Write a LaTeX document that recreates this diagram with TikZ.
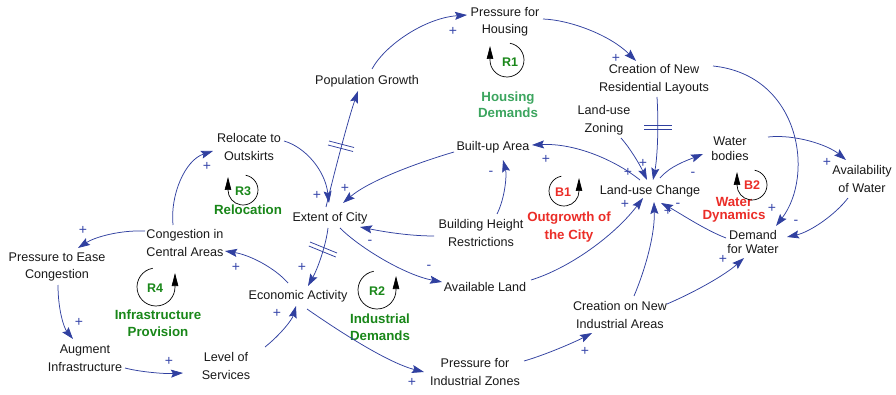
\documentclass[tikz,border=0pt]{standalone}
\usepackage{fontspec}
\setmainfont{Liberation Sans}
\usetikzlibrary{arrows.meta,calc}
\definecolor{arrblue}{RGB}{48,64,160}
\definecolor{sgnblue}{RGB}{55,70,170}
\definecolor{dgreen}{RGB}{25,135,25}
\definecolor{lgreen}{RGB}{60,165,95}
\definecolor{lred}{RGB}{235,45,40}
\definecolor{txt}{RGB}{25,25,25}
\begin{document}
\begin{tikzpicture}[x=1pt,y=-1pt,
  vnode/.style={align=center, inner sep=0pt, text=txt, font=\fontsize{12.6}{17.5}\selectfont},
  vnodemid/.style={vnode, font=\fontsize{12.6}{15}\selectfont},
  vnodesm/.style={vnode, font=\fontsize{12.6}{13.5}\selectfont},
  arr/.style={draw=arrblue, line width=0.75pt, -{Stealth[length=12pt,width=8pt,inset=2pt]}},
  sgn/.style={text=sgnblue, inner sep=0pt, font=\fontsize{14}{14}\selectfont},
  looparc/.style={draw=black, line width=0.7pt, -{Triangle[length=13pt,width=6.5pt]}},
  rlab/.style={inner sep=0pt, font=\bfseries\fontsize{12.5}{12.5}\selectfont},
  llab/.style={align=center, inner sep=0pt, font=\bfseries\fontsize{13.3}{17.5}\selectfont},
  delaystroke/.style={draw=arrblue, line width=0.75pt}
]
\fill[white] (0,0) rectangle (896,395);
\useasboundingbox (0,0) rectangle (896,395);

% variables
\node[vnode] (pfh) at (505,22) {Pressure for\\Housing};
\node[vnode] (pg) at (367,81) {Population Growth};
\node[vnode] (cnrl) at (654,79) {Creation of New\\Residential Layouts};
\node[vnode] (luz) at (604,120) {Land-use\\Zoning};
\node[vnode] (rto) at (249,147) {Relocate to\\Outskirts};
\node[vnode] (bua) at (493,147) {Built-up Area};
\node[vnode] (eoc) at (330,218) {Extent of City};
\node[vnode] (bhr) at (481,233) {Building Height\\Restrictions};
\node[vnode] (luc) at (650,191) {Land-use Change};
\node[vnodemid] (wb) at (730,149) {Water\\bodies};
\node[vnode] (aow) at (862,179) {Availability\\of Water};
\node[vnodesm] (dfw) at (753,242) {Demand\\for Water};
\node[vnode] (ptec) at (57,267) {Pressure to Ease\\Congestion};
\node[vnode] (cca) at (185,243) {Congestion in\\Central Areas};
\node[vnode] (ea) at (298,296) {Economic Activity};
\node[vnode] (ai) at (85,358) {Augment\\Infrastructure};
\node[vnode] (los) at (226,366) {Level of\\Services};
\node[vnode] (al) at (485,287) {Available Land};
\node[vnode] (cnia) at (620,315) {Creation on New\\Industrial Areas};
\node[vnode] (pfiz) at (475,372) {Pressure for\\Industrial Zones};

% loop labels
\node[llab, text=lgreen, font=\bfseries\fontsize{13.3}{16}\selectfont] (hd) at (508,105) {Housing\\Demands};
\node[llab, text=dgreen] (rel) at (248,210) {Relocation};
\node[llab, text=dgreen] (infp) at (158,323) {Infrastructure\\Provision};
\node[llab, text=dgreen] (indd) at (380,327) {Industrial\\Demands};
\node[llab, text=lred] (ogc) at (569,227) {Outgrowth of\\the City};
\node[llab, text=lred, font=\bfseries\fontsize{13.3}{13}\selectfont] (wd) at (734,210) {Water\\Dynamics};

\node[rlab, text=dgreen] (r1) at (510,62) {R1};
\node[rlab, text=dgreen] (r3) at (243,191) {R3};
\node[rlab, text=dgreen] (r4) at (155,288) {R4};
\node[rlab, text=dgreen] (r2) at (377,291) {R2};
\node[rlab, text=lred] (b1) at (563,192) {B1};
\node[rlab, text=lred] (b2) at (752,185) {B2};

% loop symbols
\draw[looparc] (507,60) ++(-80:17) arc[start angle=-80,end angle=180,radius=17] -- ++(0,-14);
\draw[looparc] (243,190) ++(-80:15) arc[start angle=-80,end angle=180,radius=15] -- ++(0,-13);
\draw[looparc] (752,185) ++(-80:15) arc[start angle=-80,end angle=180,radius=15] -- ++(0,-13);
\draw[looparc] (156,287) ++(-100:19) arc[start angle=-100,end angle=-360,radius=19] -- ++(0,-14);
\draw[looparc] (377,290) ++(-100:19) arc[start angle=-100,end angle=-360,radius=19] -- ++(0,-14);
\draw[looparc] (564,191) ++(-100:15) arc[start angle=-100,end angle=-360,radius=15] -- ++(0,-13);

% connectors
\draw[arr] ($(pg)+(5,-12)$) .. controls (385,45) and (425,18) .. ($(pfh)+(-38,-7)$);
\draw[arr] ($(pfh)+(38,-3)$) .. controls (570,20) and (610,35) .. ($(cnrl)+(-18,-18)$);
\draw[arr] ($(cnrl)+(3,18)$) .. controls (659,130) and (657,160) .. ($(luc)+(3,-11)$);
\draw[arr] ($(luz)+(17,18)$) .. controls (630,148) and (640,165) .. ($(luc)+(-3,-11)$);
\draw[arr] ($(luc)+(-10,-11)$) .. controls (615,160) and (575,143) .. ($(bua)+(39,-2)$);
\draw[arr] ($(bua)+(-39,5)$) .. controls (420,162) and (370,180) .. ($(eoc)+(13,-15)$);
\draw[arr] ($(bhr)+(16,-19)$) .. controls (505,198) and (507,175) .. ($(bua)+(10,13)$);
\draw[arr] ($(bhr)+(-47,3)$) .. controls (410,236) and (385,232) .. ($(eoc)+(30,9)$);
\draw[arr] ($(rto)+(35,-6)$) .. controls (305,147) and (325,170) .. ($(eoc)+(-1,-15)$);
\draw[arr] ($(eoc)+(-4,-11)$) .. controls (335,170) and (348,120) .. ($(pg)+(-9,10)$);
\draw[arr] ($(eoc)+(-2,10)$) .. controls (326,245) and (318,268) .. ($(ea)+(10,-10)$);
\draw[arr] ($(eoc)+(10,10)$) .. controls (360,248) and (405,275) .. ($(al)+(-43,-5)$);
\draw[arr] ($(al)+(46,-7)$) .. controls (570,268) and (615,235) .. ($(luc)+(-7,7)$);
\draw[arr] ($(cnia)+(14,-19)$) .. controls (645,270) and (655,235) .. ($(luc)+(4,11)$);
\draw[arr] ($(cnia)+(47,-11)$) .. controls (695,292) and (725,275) .. ($(dfw)+(-9,16)$);
\draw[arr] ($(dfw)+(-27,-4)$) .. controls (705,230) and (678,212) .. ($(luc)+(11,12)$);
\draw[arr] ($(luc)+(10,-13)$) .. controls (670,166) and (688,160) .. ($(wb)+(-27,5)$);
\draw[arr] ($(wb)+(38,-12)$) .. controls (795,134) and (828,145) .. ($(aow)+(-16,-19)$);
\draw[arr] ($(aow)+(-14,19)$) .. controls (835,215) and (810,232) .. ($(dfw)+(34,-5)$);
\draw[arr] ($(cnrl)+(59,-13)$) .. controls (800,75) and (815,175) .. ($(dfw)+(23,-16)$);
\draw[arr] ($(cca)+(-12,-18)$) .. controls (170,195) and (185,160) .. ($(rto)+(-36,4)$);
\draw[arr] ($(cca)+(-40,-12)$) .. controls (120,230) and (95,237) .. ($(ptec)+(21,-19)$);
\draw[arr] ($(ptec)+(1,18)$) .. controls (58,310) and (64,328) .. ($(ai)+(-12,-19)$);
\draw[arr] ($(ai)+(40,10)$) .. controls (140,372) and (165,374) .. ($(los)+(-43,7)$);
\draw[arr] ($(los)+(39,-19)$) .. controls (280,335) and (292,320) .. ($(ea)+(-2,10)$);
\draw[arr] ($(ea)+(-10,-13)$) .. controls (275,268) and (250,255) .. ($(cca)+(40,8)$);
\draw[arr] ($(ea)+(9,13)$) .. controls (330,325) and (385,362) .. ($(pfiz)+(-51,0)$);
\draw[arr] ($(pfiz)+(49,-11)$) .. controls (545,355) and (575,342) .. ($(cnia)+(-28,18)$);

% delay marks
\draw[delaystroke] (644,125) -- (672,125) (644,129.5) -- (672,129.5);
\draw[delaystroke] (329,141) -- (354,147.5) (328,145) -- (353,151.5);
\draw[delaystroke] (310,242) -- (337,253) (308.8,246) -- (335.8,257);

% polarity signs
\node[sgn] (s1) at (453,31) {+};
\node[sgn] (s2) at (616,58) {+};
\node[sgn] (s3) at (643,163) {+};
\node[sgn] (s4) at (628,172) {+};
\node[sgn] (s5) at (546,159) {+};
\node[sgn] (s6) at (345,188) {+};
\node[sgn] (s7) at (491,173.5) {-};
\node[sgn] (s8) at (370,242.5) {-};
\node[sgn] (s9) at (317,195) {+};
\node[sgn] (s10) at (302,267) {+};
\node[sgn] (s11) at (429,267.5) {-};
\node[sgn] (s12) at (625,204) {+};
\node[sgn] (s13) at (668,211) {+};
\node[sgn] (s14) at (678,205) {-};
\node[sgn] (s15) at (723,259) {+};
\node[sgn] (s16) at (693,174.5) {-};
\node[sgn] (s17) at (827,162) {+};
\node[sgn] (s18) at (796,222.5) {-};
\node[sgn] (s19) at (772,208) {+};
\node[sgn] (s20) at (207,166) {+};
\node[sgn] (s21) at (83,230) {+};
\node[sgn] (s22) at (79,322) {+};
\node[sgn] (s23) at (169,361) {+};
\node[sgn] (s24) at (277,313) {+};
\node[sgn] (s25) at (236,267) {+};
\node[sgn] (s26) at (412,382) {+};
\node[sgn] (s27) at (585,351) {+};
\end{tikzpicture}
\end{document}
